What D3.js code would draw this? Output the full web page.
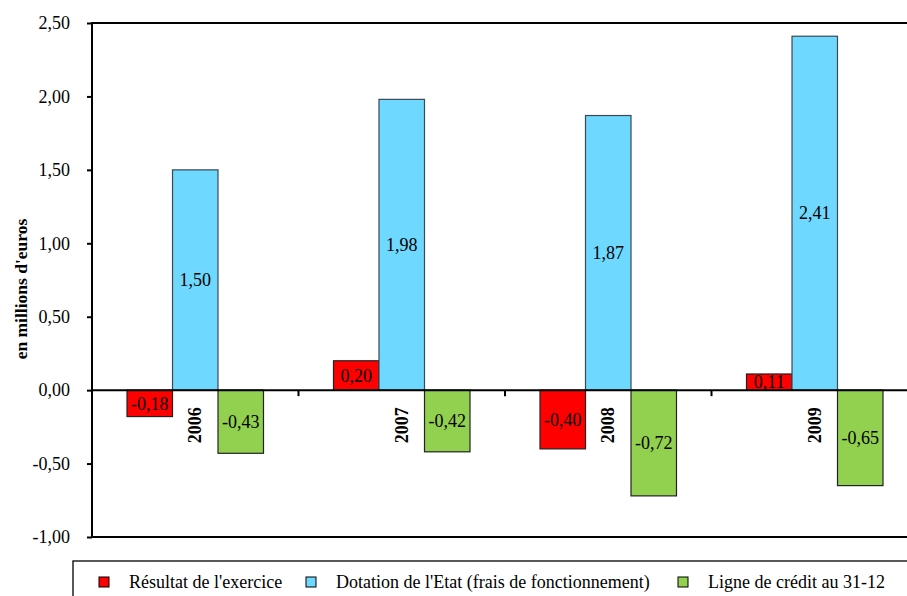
<!DOCTYPE html>
<html><head><meta charset="utf-8">
<script src="https://cdn.jsdelivr.net/npm/d3@7"></script>
<style>body{margin:0;background:#fff}svg{display:block}text{font-family:"Liberation Serif","Times New Roman",serif}</style>
</head><body>
<script>
const years = ["2006","2007","2008","2009"];
const seriesNames = ["Résultat de l'exercice","Dotation de l'Etat (frais de fonctionnement)","Ligne de crédit au 31-12"];
const resultat = [-0.18, 0.20, -0.40, 0.11];
const dotation = [1.50, 1.98, 1.87, 2.41];
const ligne = [-0.43, -0.42, -0.72, -0.65];
const yTicks = [-1, -0.5, 0, 0.5, 1, 1.5, 2, 2.5];
const colors = ["#FF0000", "#6ED8FE", "#92D050"];
const strokes = ["#222", "#3a4a55", "#222"];

const W = 907, H = 596;
const L = 92, R = 918, T = 23, B = 537;
const fs = 18;
const FF = "'Liberation Serif', 'Times New Roman', serif";
const svg = d3.select("body").append("svg").attr("width", W).attr("height", H)
  .attr("font-family", FF);

const y = d3.scaleLinear().domain([-1, 2.5]).range([B, T]);
const x = d3.scaleBand().domain(years).range([L, R]).padding(0);
const cw = x.bandwidth();
const xs = d3.scaleBand().domain([0,1,2]).range([35, cw - 35]).padding(0);
const fmt = v => d3.format(".2f")(v).replace("\u2212", "-").replace(".", ",");

const series = [resultat, dotation, ligne];
const data = [];
series.forEach((arr, s) => arr.forEach((v, i) => data.push({s, i, v})));

// bars
svg.append("g").selectAll("rect").data(data).join("rect")
  .attr("x", d => x(years[d.i]) + xs(d.s))
  .attr("width", xs.bandwidth())
  .attr("y", d => y(Math.max(0, d.v)))
  .attr("height", d => Math.abs(y(d.v) - y(0)))
  .attr("fill", d => colors[d.s])
  .attr("stroke", d => strokes[d.s]).attr("stroke-width", 1.2);

// zero line with ticks at category boundaries
svg.append("line").attr("x1", L).attr("x2", R).attr("y1", y(0)).attr("y2", y(0))
  .attr("stroke", "#000").attr("stroke-width", 2);
svg.append("g").selectAll("line").data(years.slice(1)).join("line")
  .attr("x1", d => x(d)).attr("x2", d => x(d))
  .attr("y1", y(0)).attr("y2", y(0) + 6)
  .attr("stroke", "#000").attr("stroke-width", 2);

// frame
svg.append("rect").attr("x", L).attr("y", T).attr("width", R - L).attr("height", B - T)
  .attr("fill", "none").attr("stroke", "#000").attr("stroke-width", 2);

// y axis
const yAxis = d3.axisLeft(y).tickValues(yTicks).tickSize(5).tickPadding(17).tickFormat(fmt);
const ga = svg.append("g").attr("transform", `translate(${L},0)`).call(yAxis)
  .attr("font-family", FF).attr("font-size", fs);
ga.select(".domain").remove();
ga.selectAll(".tick line").attr("stroke", "#000").attr("stroke-width", 2);
ga.selectAll(".tick text").attr("font-size", fs).attr("fill", "#000");

// y title
svg.append("text").attr("transform", `translate(27,289) rotate(-90)`)
  .attr("text-anchor", "middle").attr("font-size", 17.5).attr("font-weight", "bold")
  .text("en millions d'euros");

// data labels
svg.append("g").selectAll("text").data(data).join("text")
  .attr("x", d => x(years[d.i]) + xs(d.s) + xs.bandwidth() / 2)
  .attr("y", d => (y(d.v) + y(0)) / 2)
  .attr("dy", "0.35em")
  .attr("text-anchor", "middle").attr("font-size", fs).attr("fill", "#000")
  .text(d => fmt(d.v));

// category labels (rotated)
svg.append("g").selectAll("text").data(years).join("text")
  .attr("transform", d => `translate(${x(d) + cw / 2 + 6},${y(0) + 17}) rotate(-90)`)
  .attr("text-anchor", "end").attr("font-size", fs).attr("font-weight", "bold")
  .text(d => d);

// legend
const lg = svg.append("g");
lg.append("rect").attr("x", 73).attr("y", 561).attr("width", 900).attr("height", 80)
  .attr("fill", "#fff").attr("stroke", "#000").attr("stroke-width", 1.3);
const legX = [99, 306, 678];
const lgItems = lg.selectAll("g.item").data(seriesNames).join("g").attr("class", "item");
lgItems.append("rect")
  .attr("x", (d, i) => legX[i]).attr("y", 577).attr("width", 10).attr("height", 10)
  .attr("fill", (d, i) => colors[i]).attr("stroke", "#000").attr("stroke-width", 1);
lgItems.append("text")
  .attr("x", (d, i) => legX[i] + 30).attr("y", 582).attr("dy", "0.35em")
  .attr("font-size", fs).text(d => d);
</script>
</body></html>
